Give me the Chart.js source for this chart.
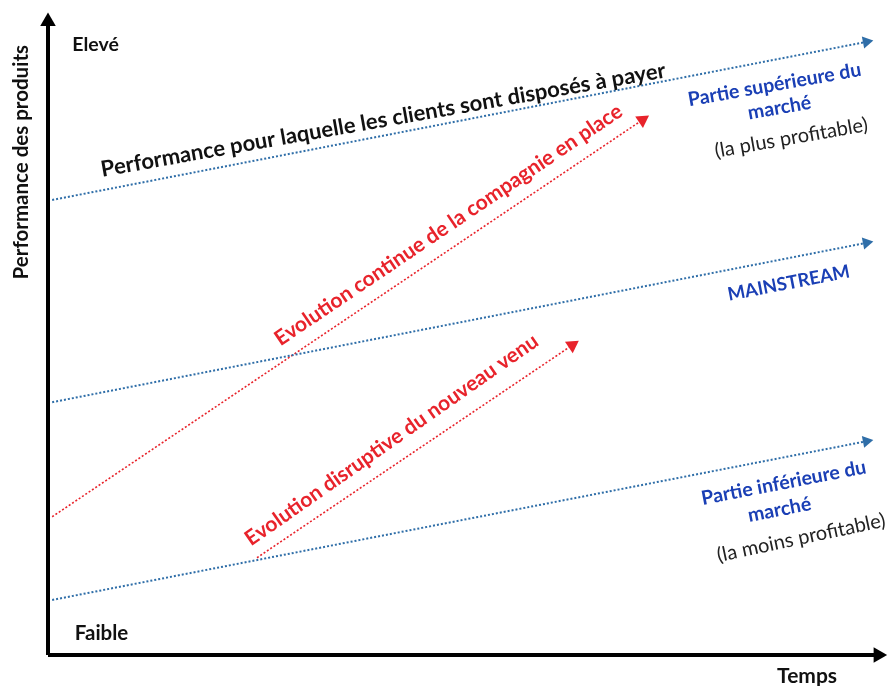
<!DOCTYPE html>
<html>
<head>
<meta charset="utf-8">
<script src="https://cdn.jsdelivr.net/npm/chart.js@4.4.0/dist/chart.umd.min.js"></script>
<style>
  body { margin: 0; background: #fff; }
  #c { display: block; }
</style>
</head>
<body>
<canvas id="c" width="893" height="686"></canvas>
<script>
// diagram values, time (x) and performance (y) on a 0..100 scale
const timeStart = [0.5, 97.9];
const topLine = [71.1, 95.8];        // performance clients will pay for
const midLine = [39.5, 64.4];        // mainstream
const lowLine = [8.6, 33.4];         // low end
const incumbentX = [0.5, 71.1];
const incumbentY = [21.6, 83.6];
const entrantX = [25, 62.7];
const entrantY = [15.2, 48.4];
const axisX = [0, 99.3];
const axisY = [0, 99];

const blue = '#2f6ea8';
const red = '#e8232b';
const navy = '#1a3fb5';

function pts(xs, ys) {
    return xs.map((x, i) => ({ x: x, y: ys[i] }));
}

// rotation of the arrowhead so it follows the segment
function arrowRot(ctx) {
    const ds = ctx.chart.data.datasets[ctx.datasetIndex].data;
    const sx = ctx.chart.scales.x, sy = ctx.chart.scales.y;
    const dx = sx.getPixelForValue(ds[1].x) - sx.getPixelForValue(ds[0].x);
    const dy = sy.getPixelForValue(ds[1].y) - sy.getPixelForValue(ds[0].y);
    return Math.atan2(dx, -dy) * 180 / Math.PI;
}

function arrowLine(data, color, width, dash, head) {
    return {
        data: data,
        showLine: true,
        borderColor: color,
        backgroundColor: color,
        borderWidth: width,
        borderDash: dash,
        pointRadius: [0, head],
        pointStyle: 'triangle',
        pointRotation: arrowRot,
        pointBorderWidth: 0,
        clip: false
    };
}

const labels = [
    { text: 'Performance des produits', x: -3.2, y: 77, angle: -90, color: '#111', size: 20.5, weight: 'bold' },
    { text: 'Elevé', x: 2.9, y: 95.3, angle: 0, color: '#111', size: 19.5, weight: 'bold', align: 'left' },
    { text: 'Faible', x: 3.2, y: 3.4, angle: 0, color: '#111', size: 20.5, weight: 'bold', align: 'left' },
    { text: 'Temps', x: 90.8, y: -3.3, angle: 0, color: '#111', size: 21, weight: 'bold' },
    { text: 'Performance pour laquelle les clients sont disposés à payer', x: 40.1, y: 83.6, angle: -10, color: '#111', size: 22, weight: 'bold' },
    { text: 'Evolution continue de la compagnie en place', x: 47.9, y: 67.2, angle: -34, color: red, size: 21, weight: 'bold' },
    { text: 'Evolution disruptive du nouveau venu', x: 41.1, y: 33.6, angle: -35, color: red, size: 21, weight: 'bold' },
    { text: 'Partie supérieure du', x: 86.9, y: 89.1, angle: -10, color: navy, size: 19.5, weight: 'bold' },
    { text: 'marché', x: 87.5, y: 85.5, angle: -10, color: navy, size: 19.5, weight: 'bold' },
    { text: '(la plus profitable)', x: 88.9, y: 80.8, angle: -10, color: '#222', size: 20, weight: 'normal' },
    { text: 'MAINSTREAM', x: 88.6, y: 58.1, angle: -11, color: navy, size: 18.5, weight: 'bold' },
    { text: 'Partie inférieure du', x: 88.0, y: 26.9, angle: -11, color: navy, size: 19.5, weight: 'bold' },
    { text: 'marché', x: 87.5, y: 22.7, angle: -11, color: navy, size: 19.5, weight: 'bold' },
    { text: '(la moins profitable)', x: 90.1, y: 18.3, angle: -12, color: '#222', size: 20, weight: 'normal' }
];

const textPlugin = {
    id: 'texts',
    afterDatasetsDraw(chart) {
        const c = chart.ctx;
        const sx = chart.scales.x, sy = chart.scales.y;
        labels.forEach(l => {
            c.save();
            c.translate(sx.getPixelForValue(l.x), sy.getPixelForValue(l.y));
            c.rotate(l.angle * Math.PI / 180);
            c.font = l.weight + ' ' + l.size + 'px Lato, "Open Sans", sans-serif';
            c.fillStyle = l.color;
            c.textAlign = l.align || 'center';
            c.textBaseline = 'middle';
            c.fillText(l.text, 0, 0);
            c.restore();
        });
    }
};

new Chart(document.getElementById('c'), {
    type: 'scatter',
    data: {
        datasets: [
            arrowLine(pts(timeStart, topLine), blue, 2, [2, 2], 7),
            arrowLine(pts(timeStart, midLine), blue, 2, [2, 2], 7),
            arrowLine(pts(timeStart, lowLine), blue, 2, [2, 2], 7),
            arrowLine(pts(incumbentX, incumbentY), red, 1.6, [2, 2], 8),
            arrowLine(pts(entrantX, entrantY), red, 1.6, [2, 2], 8),
            arrowLine(pts([0, 0], axisY), '#000', 4, [], 9),
            arrowLine(pts(axisX, [0, 0]), '#000', 4, [], 9)
        ]
    },
    options: {
        responsive: false,
        animation: false,
        devicePixelRatio: 1,
        layout: { padding: { left: 48, right: 5, top: 15, bottom: 31 } },
        plugins: { legend: { display: false }, tooltip: { enabled: false } },
        scales: {
            x: { type: 'linear', min: 0, max: 100, display: false },
            y: { type: 'linear', min: 0, max: 100, display: false }
        }
    },
    plugins: [textPlugin]
});
</script>
</body>
</html>
